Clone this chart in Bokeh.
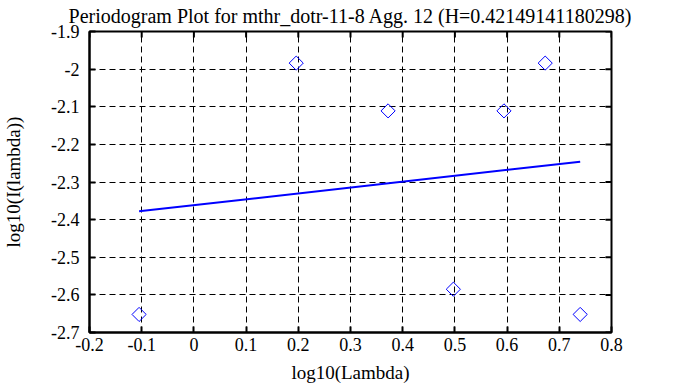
import math
from bokeh.plotting import figure
from bokeh.models import LinearAxis, FixedTicker, Range1d
from bokeh.embed import file_html
from bokeh.resources import INLINE

# Data
log_lambda = [-0.105, 0.196, 0.372, 0.497, 0.594, 0.673, 0.740]
log_I = [-2.652, -1.984, -2.111, -2.585, -2.111, -1.984, -2.652]
fit_x = [-0.105, 0.740]
fit_y = [-2.378, -2.246]
x_ticks = [-0.2, -0.1, 0, 0.1, 0.2, 0.3, 0.4, 0.5, 0.6, 0.7, 0.8]
y_ticks = [-2.7, -2.6, -2.5, -2.4, -2.3, -2.2, -2.1, -2.0, -1.9]
x_labels = {-0.2: "-0.2", -0.1: "-0.1", 0: "0", 0.1: "0.1", 0.2: "0.2", 0.3: "0.3",
            0.4: "0.4", 0.5: "0.5", 0.6: "0.6", 0.7: "0.7", 0.8: "0.8"}
y_labels = {-2.7: "-2.7", -2.6: "-2.6", -2.5: "-2.5", -2.4: "-2.4", -2.3: "-2.3",
            -2.2: "-2.2", -2.1: "-2.1", -2.0: "-2", -1.9: "-1.9"}
title = "Periodogram Plot for mthr_dotr-11-8 Agg. 12 (H=0.42149141180298)"
x_min, x_max = -0.2, 0.8
y_min, y_max = -2.7, -1.9

FONT = "Liberation Serif"

p = figure(width=673, height=387, output_backend="svg", toolbar_location=None,
           x_range=Range1d(x_min, x_max), y_range=Range1d(y_min, y_max),
           x_axis_location=None, y_axis_location=None,
           min_border_left=82, min_border_right=62, min_border_top=31, min_border_bottom=55)

p.title.text = title
p.title.align = "center"
p.title.vertical_align = "top"
p.title.text_font = FONT
p.title.text_font_size = "20px"
p.title.text_font_style = "normal"
p.title.text_color = "black"
p.title.standoff = 6
p.title.offset = 0

p.outline_line_color = "black"
p.outline_line_width = 2
p.background_fill_color = "white"
p.border_fill_color = "white"


def style_axis(ax, ticks, labels):
    ax.ticker = FixedTicker(ticks=ticks)
    ax.major_label_overrides = labels
    ax.major_tick_in = 6
    ax.major_tick_out = 0
    ax.minor_tick_line_color = None
    ax.axis_line_width = 2
    ax.axis_line_color = "black"
    ax.major_tick_line_width = 2
    ax.major_tick_line_color = "black"
    ax.major_label_text_font = FONT
    ax.major_label_text_color = "black"
    ax.major_label_text_font_size = "18px"
    ax.axis_label_text_font = FONT
    ax.axis_label_text_font_size = "19px"
    ax.axis_label_text_font_style = "normal"
    ax.axis_label_text_color = "black"


bottom = LinearAxis(axis_label="log10(Lambda)")
style_axis(bottom, x_ticks, x_labels)
bottom.major_label_standoff = 5
bottom.axis_label_standoff = 8
p.add_layout(bottom, "below")

left = LinearAxis(axis_label="log10(I(lambda))")
style_axis(left, y_ticks, y_labels)
left.major_label_standoff = 10
left.axis_label_standoff = 24
p.add_layout(left, "left")

# inward ticks on the right and top borders
p.ray(x=[x_max] * len(y_ticks), y=y_ticks, length=6, length_units="screen",
      angle=math.pi, line_color="black", line_width=2)
p.ray(x=x_ticks, y=[y_max] * len(x_ticks), length=6, length_units="screen",
      angle=-math.pi / 2, line_color="black", line_width=2)

p.xgrid.ticker = FixedTicker(ticks=x_ticks)
p.ygrid.ticker = FixedTicker(ticks=y_ticks)
for g in (p.xgrid, p.ygrid):
    g.grid_line_color = "black"
    g.grid_line_dash = "6 4"
    g.grid_line_width = 1

p.line(fit_x, fit_y, line_color="#0000ff", line_width=2)
p.scatter(log_lambda, log_I, marker="square", size=10, angle=math.pi / 4,
          line_color="#0000ff", fill_color=None, line_width=1)

open("out.html", "w").write(file_html(p, INLINE))
